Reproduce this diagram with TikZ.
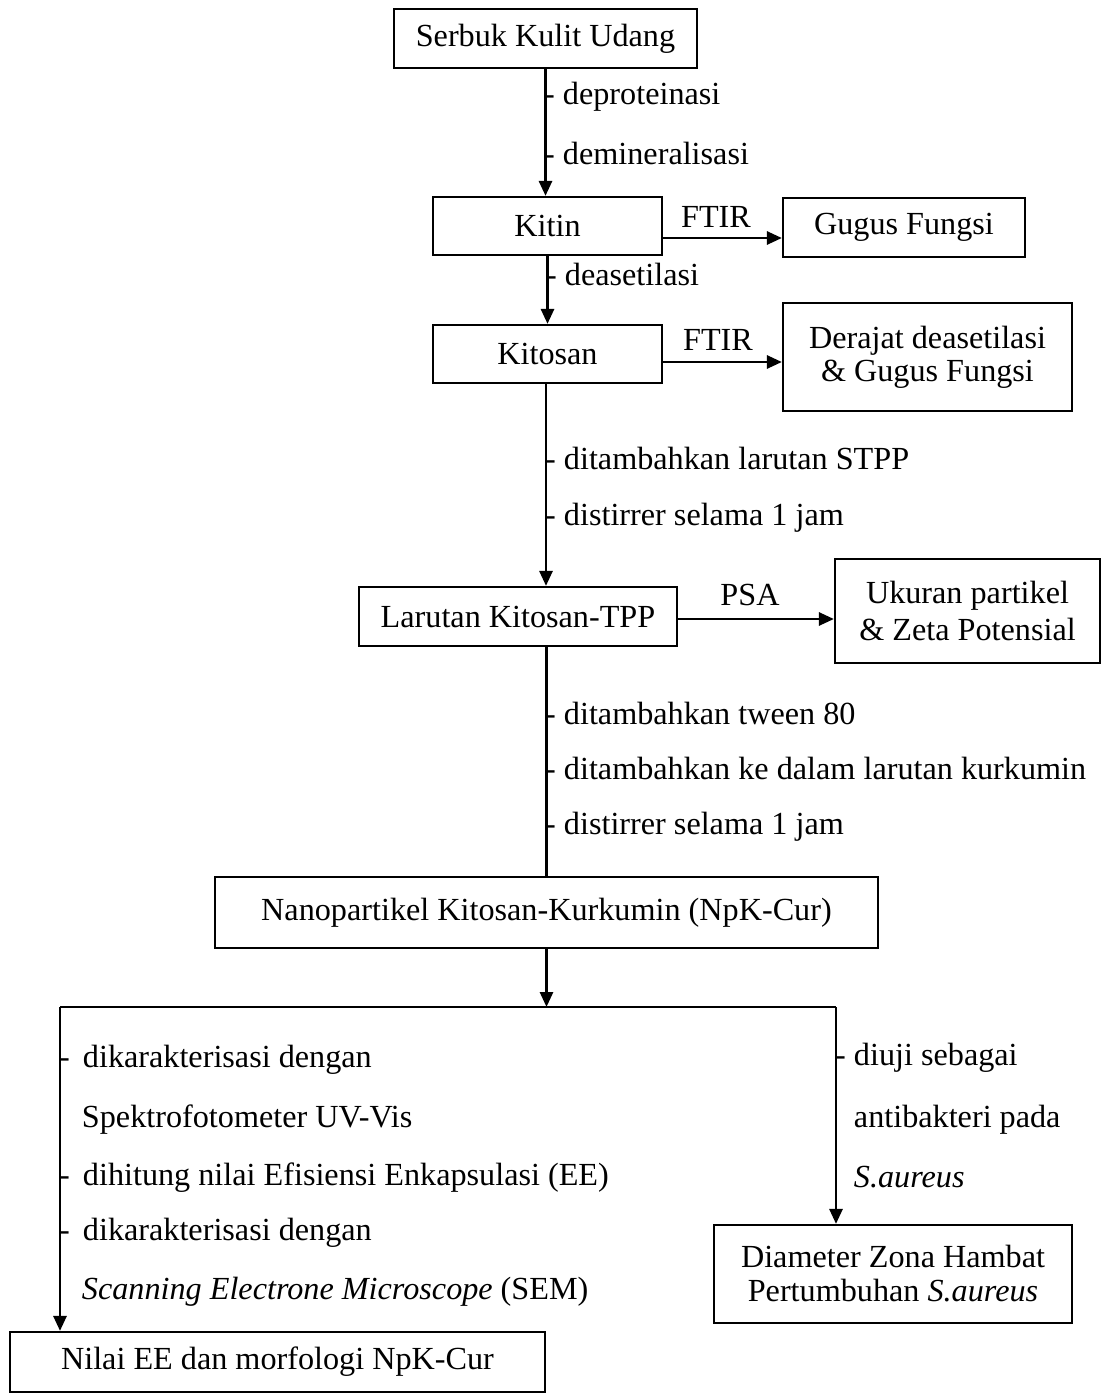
\documentclass[tikz,border=0pt]{standalone}
\usepackage{fontspec}
\setmainfont{Liberation Serif}
\usetikzlibrary{arrows.meta,calc}
\begin{document}
\begin{tikzpicture}[x=1pt,y=-1pt,
  every node/.style={font=\fontsize{32.2}{35}\selectfont},
  box/.style={draw,line width=2.2pt,inner sep=0pt,align=center},
  lbl/.style={anchor=west,inner sep=0pt,text height=22pt,text depth=7pt},
  elbl/.style={inner sep=0pt},
  conn/.style={line width=2.8pt},
  arr/.style={conn,-{Triangle[length=15pt,width=13pt]}}]
\useasboundingbox (0,0) rectangle (1103,1394);

% boxes
\node[box,minimum width=303pt,minimum height=59pt] (serbuk) at (545.5,38.5) {Serbuk Kulit Udang};
\node[box,minimum width=229pt,minimum height=58pt] (kitin) at (547.5,226) {Kitin};
\node[box,minimum width=242pt,minimum height=59pt] (gugus) at (904,227.5) {Gugus Fungsi};
\node[box,minimum width=229pt,minimum height=58pt] (kitosan) at (547.5,354) {Kitosan};
\node[box,minimum width=289pt,minimum height=108pt] (derajat) at (927.5,357) {Derajat deasetilasi\\[-2pt]\& Gugus Fungsi};
\node[box,minimum width=318pt,minimum height=59pt] (larutan) at (518,616.5) {Larutan Kitosan-TPP};
\node[box,minimum width=265pt,minimum height=104pt] (ukuran) at (967.5,611) {Ukuran partikel\\[2pt]\& Zeta Potensial};
\node[box,minimum width=663pt,minimum height=71pt] (nano) at (546.5,912.5) {Nanopartikel Kitosan-Kurkumin (NpK-Cur)};
\node[box,minimum width=358pt,minimum height=98pt] (diameter) at (893,1274) {Diameter Zona Hambat\\[-1pt]Pertumbuhan \textit{S.aureus}};
\node[box,minimum width=535pt,minimum height=60pt] (nilai) at (277.5,1362) {Nilai EE dan morfologi NpK-Cur};

% main vertical connectors
\draw[arr] (serbuk.south) -- (serbuk.south |- kitin.north);
\draw[arr] (kitin.south) -- (kitin.south |- kitosan.north);
\draw[arr] (kitosan.south -| 546,0) -- (546,0 |- larutan.north);
\draw[conn] (nano.north |- larutan.south) -- (nano.north);

% side arrows
\draw[arr] ([yshift=-12pt]kitin.east) -- ([yshift=-12pt]kitin.east -| gugus.west);
\draw[arr] ([yshift=-8pt]kitosan.east) -- ([yshift=-8pt]kitosan.east -| derajat.west);
\draw[arr] ([yshift=-2.5pt]larutan.east) -- ([yshift=-2.5pt]larutan.east -| ukuran.west);
\node[elbl] (ftir1) at (716,217) {FTIR};
\node[elbl] (ftir2) at (718,340) {FTIR};
\node[elbl] (psa) at (750,595) {PSA};

% split
\coordinate (split) at (546.5,1007);
\coordinate (L) at (60,1007);
\coordinate (R) at (836,1007);
\draw[arr] (nano.south) -- (split);
\draw[conn] (L) -- (R);
\draw[arr] (L) -- (L |- nilai.north);
\draw[arr] (R) -- (R |- diameter.north);

% step labels
\node[lbl] (l1) at (544,97) {- deproteinasi};
\node[lbl] (l2) at (544,157) {- demineralisasi};
\node[lbl] (l3) at (546,278) {- deasetilasi};
\node[lbl] (l4) at (545,462) {- ditambahkan larutan STPP};
\node[lbl] (l5) at (545,518) {- distirrer selama 1 jam};
\node[lbl] (l6) at (545,717) {- ditambahkan tween 80};
\node[lbl] (l7) at (545,772) {- ditambahkan ke dalam larutan kurkumin};
\node[lbl] (l8) at (545,827) {- distirrer selama 1 jam};

\node[lbl] (m1) at (59,1060) {- \hspace{5pt}dikarakterisasi dengan};
\node[lbl] (m2) at (59,1120) {\phantom{-} \hspace{4pt}Spektrofotometer UV-Vis};
\node[lbl] (m3) at (59,1178) {- \hspace{5pt}dihitung nilai Efisiensi Enkapsulasi (EE)};
\node[lbl] (m4) at (59,1233) {- \hspace{5pt}dikarakterisasi dengan};
\node[lbl] (m5) at (59,1292) {\phantom{-} \hspace{4pt}\textit{Scanning Electrone Microscope} (SEM)};

\node[lbl] (r1) at (835,1058) {- diuji sebagai};
\node[lbl] (r2) at (835,1120) {\phantom{-} antibakteri pada};
\node[lbl] (r3) at (835,1180) {\phantom{-} \textit{S.aureus}};
\end{tikzpicture}
\end{document}
